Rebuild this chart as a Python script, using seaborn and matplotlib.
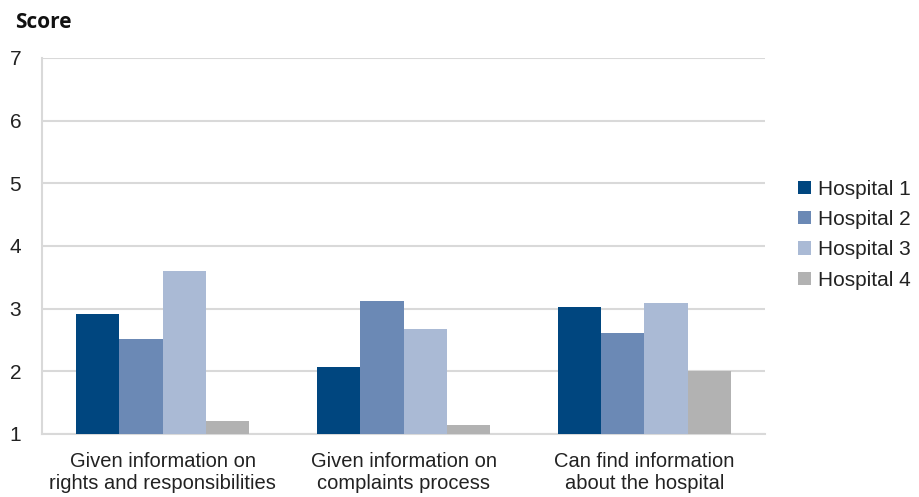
import matplotlib
matplotlib.use("Agg")
import matplotlib.pyplot as plt
import seaborn as sns
import pandas as pd

# Data
categories = ["Given information on\nrights and responsibilities",
              "Given information on\ncomplaints process",
              "Can find information\nabout the hospital"]
hospitals = ["Hospital 1", "Hospital 2", "Hospital 3", "Hospital 4"]
hospital_1 = [2.92, 2.07, 3.02]
hospital_2 = [2.52, 3.12, 2.61]
hospital_3 = [3.60, 2.68, 3.09]
hospital_4 = [1.21, 1.15, 2.00]
y_ticks = [1, 2, 3, 4, 5, 6, 7]

colors = ["#00467F", "#6B89B5", "#AABAD5", "#B2B2B2"]

rows = []
for name, vals in zip(hospitals, [hospital_1, hospital_2, hospital_3, hospital_4]):
    for cat, v in zip(categories, vals):
        rows.append({"Category": cat, "Hospital": name, "Score": v})
df = pd.DataFrame(rows)

sns.set_style("white")
plt.rcParams['font.family'] = ['Liberation Sans', 'DejaVu Sans']

fig = plt.figure(figsize=(9.2, 4.97), dpi=100)
ax = fig.add_axes([0.0457, 0.1268, 0.7858, 0.7565])

sns.barplot(data=df, x="Category", y="Score", hue="Hospital",
            palette=colors, width=0.72, gap=0, saturation=1,
            edgecolor="none", linewidth=0, ax=ax, zorder=3)

ax.set_ylim(1, 7)
ax.set_xlim(-0.5, 2.5)
ax.set_yticks(y_ticks)
ax.set_yticklabels([str(t) for t in y_ticks], fontsize=15, color="#222222")
ax.yaxis.grid(True, color="#D9D9D9", linewidth=1.5, zorder=0)
ax.set_axisbelow(True)

ax.set_xticks(range(len(categories)))
ax.set_xticklabels(categories, fontsize=14.5, color="#222222", linespacing=1.22)
ax.set_xticks([-0.5, 0.5, 1.5, 2.5], minor=True)
ax.tick_params(axis="x", which="major", length=0, pad=13)
ax.tick_params(axis="x", which="minor", length=6, width=1.5, color="#D9D9D9", direction="out")
ax.tick_params(axis="y", length=6, width=1.5, color="#D9D9D9", direction="out", pad=9)

for side in ["top", "right"]:
    ax.spines[side].set_visible(False)
for side in ["left", "bottom"]:
    ax.spines[side].set_color("#D9D9D9")
    ax.spines[side].set_linewidth(1.5)

ax.set_xlabel("")
ax.set_ylabel("")

leg = ax.legend(loc="center left", bbox_to_anchor=(1.02, 0.53), frameon=False,
                fontsize=15, handlelength=0.6, handleheight=0.6,
                handletextpad=0.35, labelspacing=0.55)
for t in leg.get_texts():
    t.set_color("#222222")

fig.text(0.016, 0.955, "Score", fontsize=15, fontweight="bold",
         family=["Open Sans", "DejaVu Sans"], va="center", ha="left", color="#111111")

fig.savefig("out.png", dpi=100)
